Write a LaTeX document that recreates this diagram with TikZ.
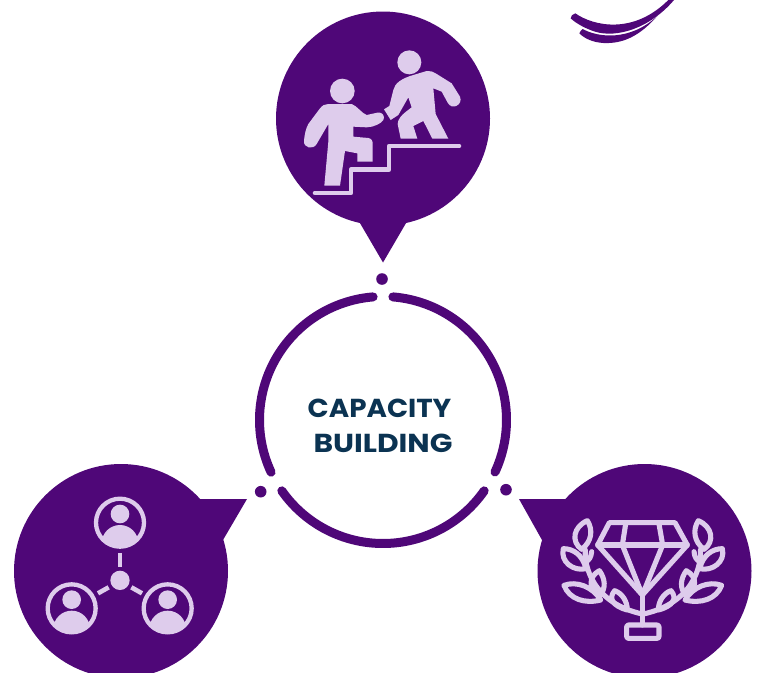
\documentclass[tikz,border=0pt]{standalone}
\usepackage{fontspec}
\usepackage{graphicx}
\usetikzlibrary{calc}
\setmainfont{Poppins}
\definecolor{deep}{HTML}{4F0778}
\definecolor{pale}{HTML}{DECCEC}
\definecolor{ink}{HTML}{0B3352}
\newcommand{\personicon}[2]{%
  \draw[pale,line width=4.3pt] (#1,#2) circle (72);
  \fill[pale] (#1,#2-26) circle (28);
  \begin{scope}
    \clip (#1,#2) circle (72);
    \fill[pale] (#1,#2+62) circle (55);
  \end{scope}}
\tikzset{
  ringarc/.style={deep,line width=9pt,line cap=round},
  bubble/.style={fill=deep},
  iconline/.style={pale,line width=5.1pt,line cap=round,line join=round},
  stairline/.style={pale,line width=4.6pt,line cap=round,line join=round},
  spoke/.style={pale,line width=4.6pt},
  caption/.style={ink,font=\bfseries\fontsize{26}{30}\selectfont,inner sep=0pt}
}
\begin{document}
\begin{tikzpicture}[x=1pt,y=1pt,yscale=-1]
\useasboundingbox (0,0) rectangle (760,672);
\clip (0,0) rectangle (760,672);
% bubbles
\fill[bubble] (383,118.5) circle (107);
\fill[bubble] (353.5,212) -- (383,262.5) -- (412.5,212) -- cycle;
\fill[bubble] (121,571) circle (107);
\fill[bubble] (199,499) -- (247,499) -- (223,540) -- (190,540) -- cycle;
\fill[bubble] (644.5,571) circle (107);
\fill[bubble] (567,499) -- (519,499) -- (542,540) -- (575,540) -- cycle;
% ring
\coordinate (c) at (383,420);
\draw[ringarc] ($(c)+(-85.4:123.5)$) arc (-85.4:24.9:123.5);
\draw[ringarc] ($(c)+(35:123.5)$) arc (35:145:123.5);
\draw[ringarc] ($(c)+(155:123.5)$) arc (155:265.4:123.5);
\fill[deep] (382,279) circle (5.8);
\fill[deep] (260.7,491.7) circle (5.8);
\fill[deep] (506,489.7) circle (5.8);
\node[caption] (cap1) at (379.5,408) {\scalebox{1.067}[1]{CAPACITY}};
\node[caption] (cap2) at (383,443.5) {\scalebox{1.144}[1]{BUILDING}};
% icon: helping hand on stairs
\begin{scope}[shift={(270,20)},scale=1/3]
  \fill[pale] (217,213) circle (37);
  \fill[pale] (418,127) circle (36);
  \fill[pale] (175,252) -- (245,252) .. controls (262,258) and (275,280) .. (290,285)
    -- (322,278) .. controls (338,274) and (346,290) .. (340,300)
    .. controls (335,310) and (310,322) .. (290,322) -- (250,320) -- (250,350) -- (295,354)
    .. controls (305,356) and (308,362) .. (308,372) -- (308,425) -- (262,425) -- (262,400)
    -- (225,393) -- (210,497) -- (163,497) -- (175,365) -- (175,312) -- (140,372)
    .. controls (130,390) and (100,385) .. (102,362)
    .. controls (104,340) and (108,325) .. (115,312) -- (150,265)
    .. controls (157,256) and (165,252) .. (175,252) -- cycle;
  \fill[pale] (430,165) -- (470,153) .. controls (480,152) and (490,155) .. (497,160)
    -- (545,190) -- (570,230) .. controls (580,255) and (545,272) .. (533,248)
    -- (515,215) -- (490,205) -- (497,282) -- (535,356) -- (487,356) -- (460,303)
    -- (430,318) -- (442,356) -- (392,356) -- (383,312)
    .. controls (383,298) and (395,285) .. (408,275) -- (425,262) -- (415,232)
    -- (385,285) -- (362,300) -- (342,268) -- (358,258) -- (370,210)
    .. controls (374,190) and (395,175) .. (430,165) -- cycle;
  \draw[stairline] (135,519) -- (243,519) -- (243,449) -- (357,449) -- (357,378) -- (567,378);
\end{scope}
% icon: network of people
\begin{scope}[shift={(10,470)},scale=1/3]
  \personicon{330}{158}
  \personicon{185}{415}
  \personicon{473}{415}
  \fill[pale] (330,331) circle (29);
  \draw[spoke] (330,250) -- (330,290);
  \draw[spoke] (296,352) -- (264,370);
  \draw[spoke] (364,352) -- (396,370);
\end{scope}
% icon: diamond with laurel
\begin{scope}[shift={(510,470)},scale=1/3]
  \draw[iconline] (298,158) -- (495,158) -- (532,225) -- (397,375) -- (263,225) -- cycle;
  \draw[iconline] (263,225) -- (532,225);
  \draw[iconline] (347,162) -- (337,225) -- (397,375) -- (458,225) -- (447,162);
  \draw[iconline] (397,375) -- (397,465);
  \draw[iconline,rounded corners=2pt] (350,465) rectangle (447,505);
  \foreach \t in {0,1}{
    \begin{scope}[xshift={\t*797},xscale={1-2*\t}]
      \draw[iconline] (226,240) .. controls (222,290) and (250,400) .. (397,432);
      \draw[iconline] (245,245) .. controls (243,262) and (238,270) .. (226,276);
      \draw[iconline] (215,238) .. controls (182,215) and (190,170) .. (232,152)
        .. controls (250,180) and (245,215) .. (215,238) -- cycle;
      \draw[iconline] (160,236) .. controls (190,236) and (218,255) .. (228,296)
        .. controls (190,305) and (150,275) .. (160,236) -- cycle;
      \draw[iconline] (268,302) .. controls (232,322) and (238,358) .. (268,378)
        .. controls (290,355) and (285,325) .. (268,302) -- cycle;
      \draw[iconline] (162,346) .. controls (200,332) and (248,350) .. (272,390)
        .. controls (225,402) and (178,388) .. (162,346) -- cycle;
      \draw[iconline] (314,362) .. controls (294,385) and (308,408) .. (352,420)
        .. controls (352,395) and (337,370) .. (314,362) -- cycle;
    \end{scope}
  }
\end{scope}
% swoosh
\begin{scope}[shift={(560,0)},scale=1/3]
  \fill[deep] (32,55) .. controls (32,48) and (38,42) .. (46,40)
    .. controls (100,78) and (220,105) .. (325,0) -- (342,0)
    .. controls (270,85) and (170,115) .. (105,95)
    .. controls (80,87) and (50,72) .. (32,55) -- cycle;
  \fill[deep] (58,100) .. controls (60,94) and (64,90) .. (68,87)
    .. controls (115,113) and (210,124) .. (292,48)
    .. controls (240,107) and (190,132) .. (130,129)
    .. controls (100,127) and (75,117) .. (58,100) -- cycle;
\end{scope}
\end{tikzpicture}
\end{document}
